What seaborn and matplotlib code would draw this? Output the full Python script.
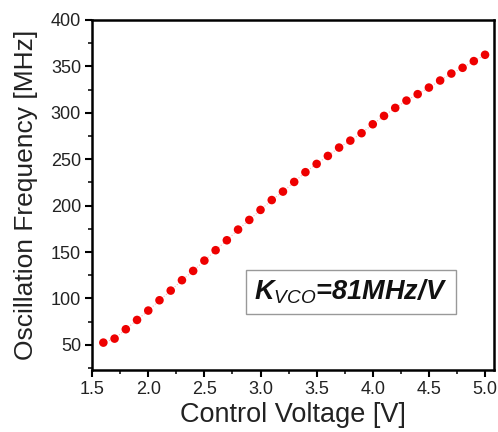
import pandas as pd
import seaborn as sns
import matplotlib.pyplot as plt
from matplotlib.ticker import MultipleLocator

# Control voltage sweep [V]
voltage = [1.6, 1.7, 1.8, 1.9, 2.0, 2.1, 2.2, 2.3, 2.4, 2.5, 2.6, 2.7,
           2.8, 2.9, 3.0, 3.1, 3.2, 3.3, 3.4, 3.5, 3.6, 3.7, 3.8, 3.9,
           4.0, 4.1, 4.2, 4.3, 4.4, 4.5, 4.6, 4.7, 4.8, 4.9, 5.0]
# Measured oscillation frequency [MHz]
freq = [52.5, 56.8, 66.9, 76.9, 87.0, 98.1, 108.5, 119.7, 129.7, 140.8,
        152.0, 162.7, 174.2, 184.6, 195.4, 206.0, 215.1, 225.5, 236.0,
        244.9, 253.5, 262.5, 270.0, 278.0, 287.6, 296.6, 305.2, 313.1,
        320.0, 327.1, 334.7, 342.2, 348.4, 355.6, 362.4]

df = pd.DataFrame({'Control Voltage [V]': voltage,
                   'Oscillation Frequency [MHz]': freq})

sns.set_style('ticks')
plt.rcParams['font.family'] = ['Liberation Sans', 'DejaVu Sans']
plt.rcParams['mathtext.fontset'] = 'custom'
plt.rcParams['mathtext.it'] = 'Liberation Sans:italic'
plt.rcParams['mathtext.bf'] = 'Liberation Sans:bold:italic'

fig = plt.figure(figsize=(4.98, 4.32), dpi=100)
ax = fig.add_axes([0.185, 0.1435, 0.807, 0.8105])

# faint connecting line + red dots
sns.lineplot(data=df, x='Control Voltage [V]', y='Oscillation Frequency [MHz]',
             ax=ax, color='#f4b6b6', linewidth=0.8, linestyle=':')
sns.scatterplot(data=df, x='Control Voltage [V]', y='Oscillation Frequency [MHz]',
                ax=ax, color='#ee0000', s=38, edgecolor='none', zorder=3)

ax.set_xlim(1.5, 5.08)
ax.set_ylim(23, 400)
ax.xaxis.set_major_locator(MultipleLocator(0.5))
ax.xaxis.set_minor_locator(MultipleLocator(0.25))
ax.yaxis.set_minor_locator(MultipleLocator(25))
ax.set_yticks([50, 100, 150, 200, 250, 300, 350, 400])

for side in ['left', 'right', 'top', 'bottom']:
    ax.spines[side].set_visible(True)
    ax.spines[side].set_linewidth(1.8)
    ax.spines[side].set_color('black')

ax.tick_params(which='major', direction='out', length=5, width=1.5,
               labelsize=13, colors='black', labelcolor='#222222', pad=3)
ax.tick_params(which='minor', direction='out', length=3, width=1.3)
ax.tick_params(top=False, right=False, which='both')

ax.set_xlabel('Control Voltage [V]', fontsize=19.5, color='#222222', labelpad=3)
ax.set_ylabel('Oscillation Frequency [MHz]', fontsize=19, color='#222222', labelpad=9)

ax.text(0.644, 0.223, r'$\mathbf{K}_{\mathit{VCO}}$=81MHz/V', transform=ax.transAxes,
        fontsize=19.5, fontweight='bold', fontstyle='italic', ha='center', va='center',
        color='#111111',
        bbox=dict(boxstyle='square,pad=0.3', facecolor='white', edgecolor='#999999',
                  linewidth=1.0))

plt.savefig('out.png', dpi=100)
